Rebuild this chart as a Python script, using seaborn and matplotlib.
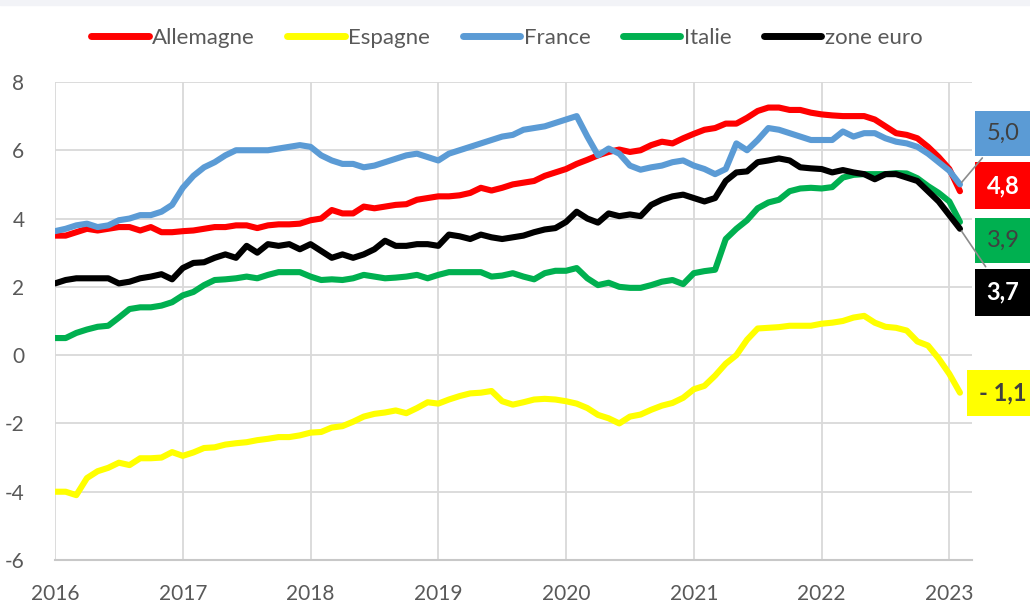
import numpy as np
import pandas as pd
import seaborn as sns
import matplotlib.pyplot as plt

# monthly values, Jan 2016 -> Feb 2023
months = pd.date_range("2016-01-01", "2023-02-01", freq="MS")

allemagne = [3.5, 3.5, 3.6, 3.7, 3.65, 3.7, 3.75, 3.75, 3.65, 3.75, 3.6, 3.6,
             3.63, 3.65, 3.7, 3.75, 3.75, 3.8, 3.8, 3.72, 3.8, 3.83, 3.83, 3.85,
             3.95, 4.0, 4.25, 4.15, 4.15, 4.35, 4.3, 4.35, 4.4, 4.42, 4.55, 4.6,
             4.65, 4.65, 4.68, 4.75, 4.9, 4.82, 4.9, 5.0, 5.05, 5.1, 5.25, 5.35,
             5.45, 5.6, 5.72, 5.85, 5.95, 6.02, 5.95, 6.0, 6.15, 6.25, 6.2, 6.35,
             6.48, 6.6, 6.65, 6.78, 6.78, 6.95, 7.15, 7.25, 7.25, 7.18, 7.18, 7.1,
             7.05, 7.02, 7.0, 7.0, 7.0, 6.9, 6.7, 6.5, 6.45, 6.35, 6.1, 5.8,
             5.45, 4.8]
espagne = [-4.0, -4.0, -4.1, -3.6, -3.4, -3.3, -3.15, -3.22, -3.02, -3.02, -3.0, -2.84,
           -2.95, -2.85, -2.72, -2.7, -2.62, -2.58, -2.55, -2.49, -2.45, -2.4, -2.4, -2.35,
           -2.27, -2.25, -2.12, -2.08, -1.95, -1.8, -1.72, -1.68, -1.62, -1.7, -1.55, -1.38,
           -1.42, -1.3, -1.2, -1.12, -1.1, -1.05, -1.35, -1.45, -1.38, -1.3, -1.28, -1.3,
           -1.35, -1.42, -1.55, -1.75, -1.85, -2.0, -1.8, -1.74, -1.6, -1.48, -1.4, -1.25,
           -1.0, -0.9, -0.6, -0.25, 0.0, 0.45, 0.78, 0.8, 0.82, 0.86, 0.86, 0.86,
           0.92, 0.95, 1.0, 1.1, 1.15, 0.95, 0.83, 0.8, 0.72, 0.4, 0.28, -0.1,
           -0.55, -1.1]
france = [3.63, 3.7, 3.8, 3.85, 3.75, 3.8, 3.95, 4.0, 4.1, 4.1, 4.2, 4.4,
          4.9, 5.25, 5.5, 5.65, 5.85, 6.0, 6.0, 6.0, 6.0, 6.05, 6.1, 6.15,
          6.1, 5.85, 5.7, 5.6, 5.6, 5.5, 5.55, 5.65, 5.75, 5.85, 5.9, 5.8,
          5.7, 5.9, 6.0, 6.1, 6.2, 6.3, 6.4, 6.45, 6.6, 6.65, 6.7, 6.8,
          6.9, 7.0, 6.4, 5.85, 6.05, 5.9, 5.55, 5.43, 5.5, 5.55, 5.65, 5.7,
          5.55, 5.45, 5.3, 5.45, 6.2, 6.0, 6.3, 6.65, 6.6, 6.5, 6.4, 6.3,
          6.3, 6.3, 6.55, 6.4, 6.5, 6.5, 6.35, 6.25, 6.2, 6.1, 5.9, 5.65,
          5.4, 5.0]
italie = [0.5, 0.5, 0.65, 0.75, 0.83, 0.86, 1.1, 1.35, 1.4, 1.4, 1.45, 1.55,
          1.75, 1.85, 2.05, 2.2, 2.22, 2.25, 2.3, 2.25, 2.35, 2.43, 2.43, 2.43,
          2.3, 2.2, 2.22, 2.2, 2.25, 2.35, 2.3, 2.25, 2.27, 2.3, 2.35, 2.25,
          2.35, 2.43, 2.43, 2.43, 2.43, 2.3, 2.33, 2.4, 2.3, 2.22, 2.4, 2.47,
          2.47, 2.55, 2.25, 2.05, 2.12, 2.0, 1.97, 1.97, 2.05, 2.15, 2.2, 2.08,
          2.4, 2.46, 2.5, 3.4, 3.7, 3.95, 4.3, 4.47, 4.55, 4.8, 4.88, 4.9,
          4.88, 4.92, 5.2, 5.28, 5.3, 5.3, 5.3, 5.33, 5.32, 5.18, 4.95, 4.75,
          4.5, 3.9]
zone_euro = [2.1, 2.2, 2.25, 2.25, 2.25, 2.25, 2.1, 2.15, 2.25, 2.3, 2.37, 2.22,
             2.55, 2.7, 2.72, 2.85, 2.95, 2.85, 3.2, 3.0, 3.25, 3.2, 3.25, 3.1,
             3.25, 3.05, 2.85, 2.95, 2.85, 2.95, 3.1, 3.35, 3.2, 3.2, 3.25, 3.25,
             3.2, 3.53, 3.48, 3.4, 3.53, 3.45, 3.4, 3.45, 3.5, 3.6, 3.68, 3.72,
             3.9, 4.2, 4.0, 3.88, 4.15, 4.07, 4.12, 4.07, 4.4, 4.55, 4.65, 4.7,
             4.6, 4.5, 4.6, 5.1, 5.35, 5.38, 5.65, 5.7, 5.76, 5.7, 5.5, 5.47,
             5.45, 5.35, 5.42, 5.35, 5.3, 5.15, 5.3, 5.3, 5.2, 5.1, 4.8, 4.5,
             4.1, 3.7]

series = ["Allemagne", "Espagne", "France", "Italie", "zone euro"]
colors = ["#FF0000", "#FFFF00", "#5B9BD5", "#00B050", "#000000"]
last_labels = ["4,8", "- 1,1", "5,0", "3,9", "3,7"]

years = months.year + (months.month - 1) / 12
df = pd.DataFrame({"annee": years, "Allemagne": allemagne, "Espagne": espagne,
                   "France": france, "Italie": italie, "zone euro": zone_euro})
long = df.melt(id_vars="annee", var_name="pays", value_name="valeur")

sns.set_theme(style="whitegrid")
plt.rcParams["font.family"] = ["Lato", "DejaVu Sans"]
plt.rcParams["axes.unicode_minus"] = False

fig = plt.figure(figsize=(10.3, 6.07), dpi=100)
ax = fig.add_axes([0.0534, 0.0774, 0.8906, 0.7876])

sns.lineplot(data=long, x="annee", y="valeur", hue="pays", hue_order=series,
             palette=colors, linewidth=4.4, ax=ax, legend=False)

ax.set_xlim(2016, 2023.18)
ax.set_ylim(-6, 8)
ax.set_xticks(range(2016, 2024))
ax.set_yticks(range(-6, 9, 2))
ax.set_xlabel("")
ax.set_ylabel("")
ax.grid(True, color="#D9D9D9", linewidth=1.3)
for s in ["top", "right", "left"]:
    ax.spines[s].set_visible(False)
ax.spines["bottom"].set_color("#C8C8C8")
ax.spines["bottom"].set_linewidth(1.5)
ax.tick_params(axis="both", length=0, labelsize=15, colors="#595959")
ax.tick_params(axis="y", pad=22)
ax.tick_params(axis="x", pad=17)

# end-of-line value boxes
box_y = {"France": 6.49, "Allemagne": 4.96, "Italie": 3.35, "zone euro": 1.84, "Espagne": -1.11}
txt_col = {"France": "#404040", "Allemagne": "white", "Italie": "#404040",
           "zone euro": "white", "Espagne": "#404040"}
weights = {"France": "normal", "Allemagne": "bold", "Italie": "normal",
           "zone euro": "bold", "Espagne": "bold"}
x_end = years[-1]
for name, col, lab in zip(series, colors, last_labels):
    y_end = df[name].iloc[-1]
    leader = dict(arrowstyle="-", color="#8C8C8C", lw=1.2) if name in ("France", "zone euro") else None
    ax.annotate(lab, xy=(x_end, y_end), xytext=(2023.42, box_y[name]),
                textcoords="data", ha="center", va="center", fontsize=17,
                color=txt_col[name], fontweight=weights[name],
                bbox=dict(boxstyle="square,pad=0.5", fc=col, ec="none"),
                arrowprops=leader, annotation_clip=False)

handles = [plt.Line2D([], [], color=c, lw=5, solid_capstyle="round") for c in colors]
fig.legend(handles, series, loc="center", bbox_to_anchor=(0.492, 0.938), ncol=5,
           frameon=False, fontsize=16, handlelength=2.6, handletextpad=0.15,
           columnspacing=1.45, labelcolor="#595959")

fig.patches.append(plt.Rectangle((0, 0.992), 1, 0.008, transform=fig.transFigure,
                                 color="#F2F3F7", zorder=0))

fig.savefig("out.png", dpi=100)
